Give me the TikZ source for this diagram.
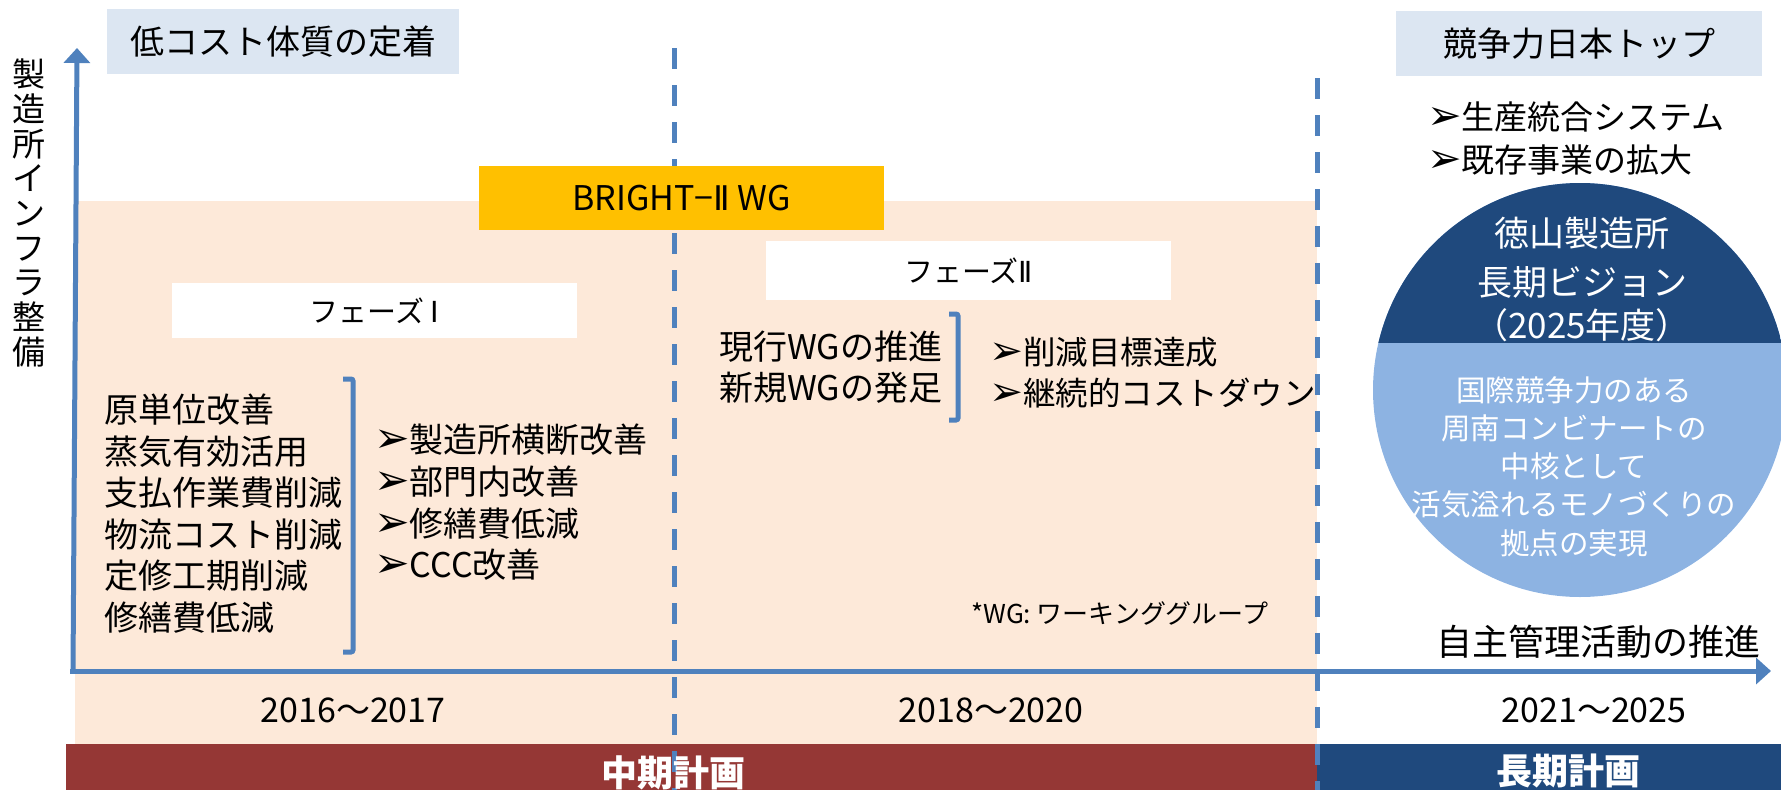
\documentclass[tikz,border=0pt]{standalone}
\usepackage{fontspec}
\setmainfont{Noto Sans CJK JP}
\newfontfamily\dv{DejaVu Sans}
\usetikzlibrary{arrows.meta}
\definecolor{axisblue}{HTML}{4F81BD}
\definecolor{peach}{HTML}{FDE9D9}
\definecolor{paleblue}{HTML}{DCE6F2}
\definecolor{gold}{HTML}{FFC000}
\definecolor{darkred}{HTML}{953735}
\definecolor{navy}{HTML}{1F497D}
\definecolor{skyblue}{HTML}{8DB3E2}
\newcommand{\arr}{\scalebox{1.25}{\dv ➢}}
\newcommand{\rmtwo}{{\dv Ⅱ}}
\newcommand{\rmone}{{\dv Ⅰ}}
\begin{document}
\begin{tikzpicture}[x=1pt,y=-1pt,
  axisline/.style={draw=axisblue, line width=5pt},
  dashline/.style={draw=axisblue, line width=5pt, dash pattern=on 21pt off 16pt},
  bracketline/.style={draw=axisblue, line width=5pt, rounded corners=2pt},
  box/.style={inner sep=0pt, text=black},
  txt/.style={inner sep=0pt, text=black},
  wtxt/.style={inner sep=0pt, text=white}]
\useasboundingbox (0,0) rectangle (1781,790);
% backgrounds
\fill[peach] (75,201) rectangle (1317,744);
\fill[darkred] (66,744) rectangle (1317,790);
\fill[navy] (1317,744) rectangle (1781,790);
% dashed separators
\coordinate (d1top) at (674,48);
\coordinate (d1bot) at (674,790);
\coordinate (d2top) at (1317,78);
\coordinate (d2bot) at (1317,790);
\draw[dashline] (d1top) -- (d1bot);
\draw[dashline] (d2top) -- (d2bot);
% axes
\coordinate (yorig) at (73,673);
\coordinate (ytip) at (77,48);
\coordinate (xorig) at (70,671);
\coordinate (xtip) at (1771,671);
\draw[axisline, -{Triangle[length=15pt,width=26pt]}] (yorig) -- (ytip);
\draw[axisline, -{Triangle[length=15pt,width=26pt]}] (xorig) -- (xtip);
% boxes
\node[box, fill=paleblue, minimum width=352pt, minimum height=65pt,
  font=\fontsize{34}{40}\selectfont] (lowcost) at (283,41.5) {低コスト体質の定着};
\node[box, fill=paleblue, minimum width=366pt, minimum height=65pt,
  font=\fontsize{34}{40}\selectfont] (top) at (1579,43.5) {競争力日本トップ};
\node[box, fill=gold, minimum width=405pt, minimum height=64pt,
  font=\fontsize{34}{40}\selectfont] (bright) at (681.5,198) {BRIGHT−\rmtwo\ WG};
\node[box, fill=white, minimum width=405pt, minimum height=55pt,
  font=\fontsize{29}{34}\selectfont] (ph1) at (374.5,310.5) {フェーズ \rmone};
\node[box, fill=white, minimum width=405pt, minimum height=59pt,
  font=\fontsize{29}{34}\selectfont] (ph2) at (968.5,270.5) {フェーズ\rmtwo};
% vertical axis label
\node[txt, align=center, font=\fontsize{33}{34.7}\selectfont] (ylabel) at (29,213)
  {製\\造\\所\\イ\\ン\\フ\\ラ\\整\\備};
% phase I lists
\node[txt, anchor=west, align=left, font=\fontsize{34}{41.5}\selectfont] (listA) at (104,513.5)
  {原単位改善\\蒸気有効活用\\支払作業費削減\\物流コスト削減\\定修工期削減\\修繕費低減};
\coordinate (bA1) at (343,379);
\coordinate (bA2) at (353,379);
\coordinate (bA3) at (353,652);
\coordinate (bA4) at (343,652);
\draw[bracketline] (bA1) -- (bA2) -- (bA3) -- (bA4);
\node[txt, anchor=west, align=left, font=\fontsize{34}{41.7}\selectfont] (listB) at (374,502.5)
  {\arr 製造所横断改善\\\arr 部門内改善\\\arr 修繕費低減\\\arr CCC改善};
% phase II lists
\node[txt, anchor=west, align=left, font=\fontsize{34}{41}\selectfont] (listC) at (719,367.5)
  {現行WGの推進\\新規WGの発足};
\coordinate (bB1) at (949,314);
\coordinate (bB2) at (958,314);
\coordinate (bB3) at (958,420);
\coordinate (bB4) at (949,420);
\draw[bracketline] (bB1) -- (bB2) -- (bB3) -- (bB4);
\node[txt, anchor=west, align=left, font=\fontsize{32.5}{41}\selectfont] (listD) at (989,372.5)
  {\arr 削減目標達成\\\arr 継続的コストダウン};
\node[txt, anchor=west, font=\fontsize{26}{30}\selectfont] (note) at (971,613)
  {*WG: ワーキンググループ};
% long term
\node[txt, anchor=west, align=left, font=\fontsize{33}{43}\selectfont] (listE) at (1427,138.5)
  {\arr 生産統合システム\\\arr 既存事業の拡大};
\node[circle, fill=skyblue, minimum size=414pt, inner sep=0pt] (vision) at (1580,390) {};
\begin{scope}
  \clip (vision.center) circle (207pt);
  \fill[navy] (1360,170) rectangle (1800,343);
\end{scope}
\node[wtxt, font=\fontsize{35}{40}\selectfont] (v1) at (1582,233) {徳山製造所};
\node[wtxt, font=\fontsize{35}{40}\selectfont] (v2) at (1582,282) {長期ビジョン};
\node[wtxt, font=\fontsize{35}{40}\selectfont] (v3) at (1582,325) {（2025年度）};
\node[wtxt, align=center, font=\fontsize{29.5}{38.3}\selectfont] (vtext) at (1574,466.5)
  {国際競争力のある\\周南コンビナートの\\中核として\\活気溢れるモノづくりの\\拠点の実現};
\node[txt, font=\fontsize{36}{40}\selectfont] (self) at (1598,642) {自主管理活動の推進};
% years
\node[txt, font=\fontsize{34}{40}\selectfont] (y1) at (353,710) {2016～2017};
\node[txt, font=\fontsize{34}{40}\selectfont] (y2) at (991,710) {2018～2020};
\node[txt, font=\fontsize{34}{40}\selectfont] (y3) at (1594,710) {2021～2025};
% plan bars
\node[wtxt, anchor=base, font=\fontsize{36}{40}\selectfont\bfseries] (mid) at (673,786) {中期計画};
\node[wtxt, anchor=base, font=\fontsize{36}{40}\selectfont\bfseries] (long) at (1568,784) {長期計画};
\end{tikzpicture}
\end{document}
